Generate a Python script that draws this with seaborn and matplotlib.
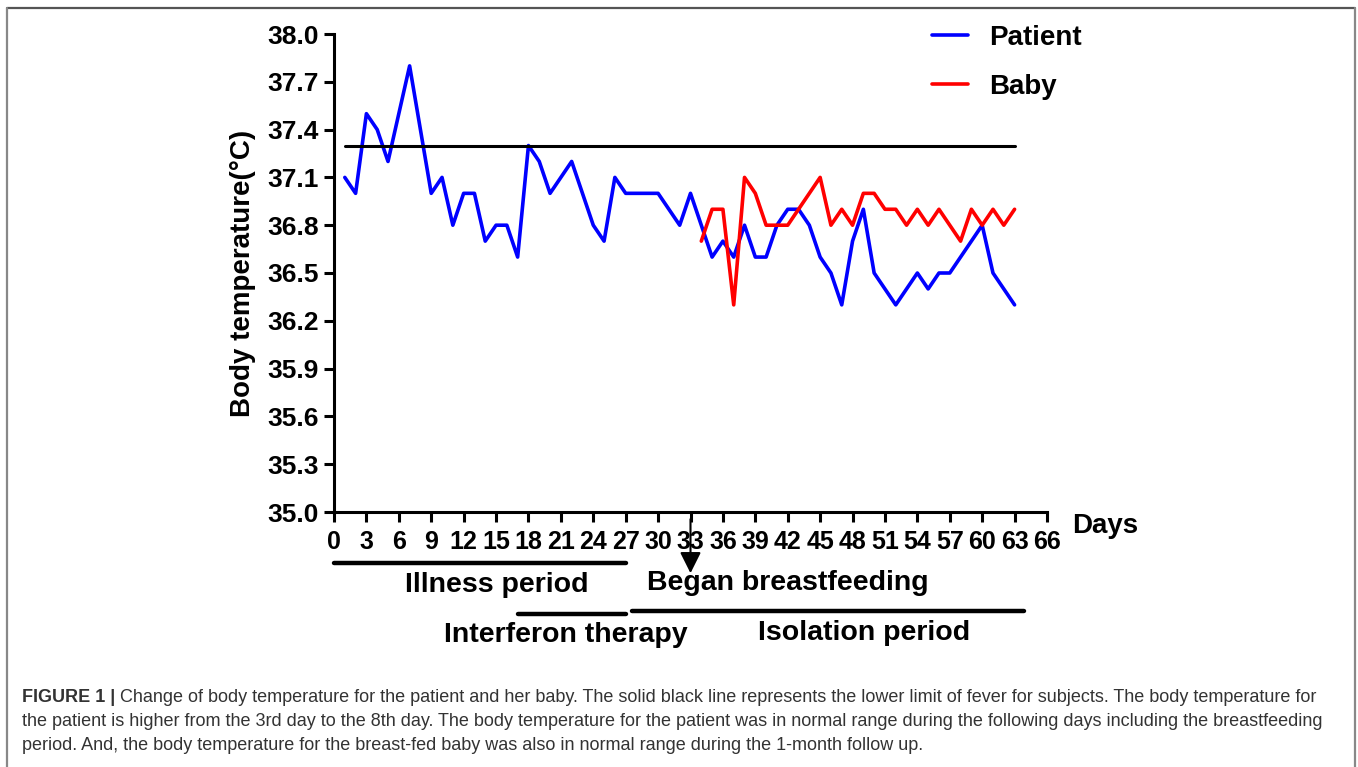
import pandas as pd
import matplotlib.pyplot as plt
import seaborn as sns
from matplotlib.lines import Line2D

# patient temperatures (day, value)
patient_days = [1, 2, 3, 4, 5, 7, 9, 10, 11, 12, 13, 14, 15, 16, 17, 18, 19, 20, 22, 24, 25, 26,
                27, 30, 32, 33, 35, 36, 37, 38, 39, 40, 41, 42, 43, 44, 45, 46, 47, 48, 49, 50,
                52, 54, 55, 56, 57, 60, 61, 63]
patient_temp = [37.1, 37.0, 37.5, 37.4, 37.2, 37.8, 37.0, 37.1, 36.8, 37.0, 37.0, 36.7, 36.8, 36.8,
                36.6, 37.3, 37.2, 37.0, 37.2, 36.8, 36.7, 37.1, 37.0, 37.0, 36.8, 37.0, 36.6, 36.7,
                36.6, 36.8, 36.6, 36.6, 36.8, 36.9, 36.9, 36.8, 36.6, 36.5, 36.3, 36.7, 36.9, 36.5,
                36.3, 36.5, 36.4, 36.5, 36.5, 36.8, 36.5, 36.3]

# baby temperatures
baby_days = [34, 35, 36, 37, 38, 39, 40, 42, 45, 46, 47, 48, 49, 50, 51, 52, 53, 54, 55, 56,
             58, 59, 60, 61, 62, 63]
baby_temp = [36.7, 36.9, 36.9, 36.3, 37.1, 37.0, 36.8, 36.8, 37.1, 36.8, 36.9, 36.8, 37.0, 37.0,
             36.9, 36.9, 36.8, 36.9, 36.8, 36.9, 36.7, 36.9, 36.8, 36.9, 36.8, 36.9]

fever_days = [1, 63]
fever_temp = [37.3, 37.3]

y_ticks = [35.0, 35.3, 35.6, 35.9, 36.2, 36.5, 36.8, 37.1, 37.4, 37.7, 38.0]
x_ticks = list(range(0, 67, 3))

caption_head = "FIGURE 1 |"
caption_lines = [
    "Change of body temperature for the patient and her baby. The solid black line represents the lower limit of fever for subjects. The body temperature for",
    "the patient is higher from the 3rd day to the 8th day. The body temperature for the patient was in normal range during the following days including the breastfeeding",
    "period. And, the body temperature for the breast-fed baby was also in normal range during the 1-month follow up.",
]

df_p = pd.DataFrame({"day": patient_days, "temp": patient_temp})
df_b = pd.DataFrame({"day": baby_days, "temp": baby_temp})

sns.set_style("ticks")
plt.rcParams['font.family'] = ['Liberation Sans', 'DejaVu Sans']
plt.rcParams['text.color'] = 'black'
plt.rcParams['axes.labelcolor'] = 'black'
plt.rcParams['xtick.color'] = 'black'
plt.rcParams['ytick.color'] = 'black'

fig = plt.figure(figsize=(13.58, 7.67), dpi=100)
ax = fig.add_axes([334 / 1358, 1 - 512 / 767, 713 / 1358, 478 / 767])

sns.lineplot(data=df_p, x="day", y="temp", ax=ax, color="#0000ff", lw=2.6, label="Patient")
sns.lineplot(data=df_b, x="day", y="temp", ax=ax, color="#ff0000", lw=2.6, label="Baby")
ax.plot(fever_days, fever_temp, color="black", lw=2.2)

ax.set_xlim(0, 66)
ax.set_ylim(35, 38)
ax.set_xticks(x_ticks)
ax.set_yticks(y_ticks)
ax.set_yticklabels([f"{v:.1f}" for v in y_ticks], fontsize=19, fontweight="bold")
ax.set_xticklabels([str(v) for v in x_ticks], fontsize=18, fontweight="bold")
ax.tick_params(axis="both", width=2.2, length=7, color="black", labelcolor="black", pad=4)
ax.tick_params(axis="x", pad=6)
for s in ["left", "bottom"]:
    ax.spines[s].set_linewidth(2.2)
    ax.spines[s].set_color("black")
sns.despine(ax=ax)
ax.set_xlabel("")
ax.set_ylabel("Body temperature(°C)", fontsize=20, fontweight="bold", labelpad=8, color="black")

leg = ax.legend(loc="upper left", bbox_to_anchor=(921 / 1358, 1 - 14 / 767), bbox_transform=fig.transFigure,
                frameon=False, prop={"size": 20, "weight": "bold"}, handlelength=1.3,
                handletextpad=0.75, labelspacing=0.82, borderaxespad=0)
for h in leg.get_lines():
    h.set_linewidth(2.6)
for t in leg.get_texts():
    t.set_color("black")

# annotations under the x axis
tr = ax.get_xaxis_transform()
ax.text(68.3, -0.03, "Days", transform=tr, fontsize=20, fontweight="bold", va="center", ha="left")
ax.plot([0, 27], [-0.107, -0.107], transform=tr, color="black", lw=3.2, clip_on=False)
ax.plot([17, 27], [-0.213, -0.213], transform=tr, color="black", lw=3.2, clip_on=False)
ax.plot([27.6, 63.9], [-0.207, -0.207], transform=tr, color="black", lw=3.2, clip_on=False)
ax.text(15.1, -0.153, "Illness period", transform=tr, fontsize=20.5, fontweight="bold", ha="center", va="center")
ax.text(42.0, -0.149, "Began breastfeeding", transform=tr, fontsize=20.5, fontweight="bold", ha="center", va="center")
ax.text(21.5, -0.257, "Interferon therapy", transform=tr, fontsize=20.5, fontweight="bold", ha="center", va="center")
ax.text(49.1, -0.253, "Isolation period", transform=tr, fontsize=20.5, fontweight="bold", ha="center", va="center")
ax.annotate("", xy=(33, -0.128), xytext=(33, -0.015), xycoords=tr, textcoords=tr,
            arrowprops=dict(arrowstyle="-|>", color="black", lw=1.5, mutation_scale=32,
                            shrinkA=0, shrinkB=0), annotation_clip=False)

# frame around the figure
fc = "#555555"
fig.add_artist(Line2D([7 / 1358, 1355 / 1358], [1 - 8 / 767, 1 - 8 / 767], transform=fig.transFigure, color=fc, lw=1.6))
fig.add_artist(Line2D([7 / 1358, 7 / 1358], [0, 1 - 8 / 767], transform=fig.transFigure, color="#888888", lw=1.6))
fig.add_artist(Line2D([1355 / 1358, 1355 / 1358], [0, 1 - 8 / 767], transform=fig.transFigure, color="#888888", lw=1.6))

# caption
cap_col = "#333333"
cap_fs = 13
head = fig.text(22 / 1358, 1 - 697 / 767, caption_head, fontsize=cap_fs, fontweight="bold", color=cap_col,
                va="center", ha="left")
fig.canvas.draw()
bb = head.get_window_extent(fig.canvas.get_renderer())
fig.text((bb.x1 + 5) / 1358, 1 - 697 / 767, caption_lines[0], fontsize=cap_fs, color=cap_col, va="center", ha="left")
fig.text(22 / 1358, 1 - 721 / 767, caption_lines[1], fontsize=cap_fs, color=cap_col, va="center", ha="left")
fig.text(22 / 1358, 1 - 745 / 767, caption_lines[2], fontsize=cap_fs, color=cap_col, va="center", ha="left")

fig.savefig("out.png", dpi=100)
